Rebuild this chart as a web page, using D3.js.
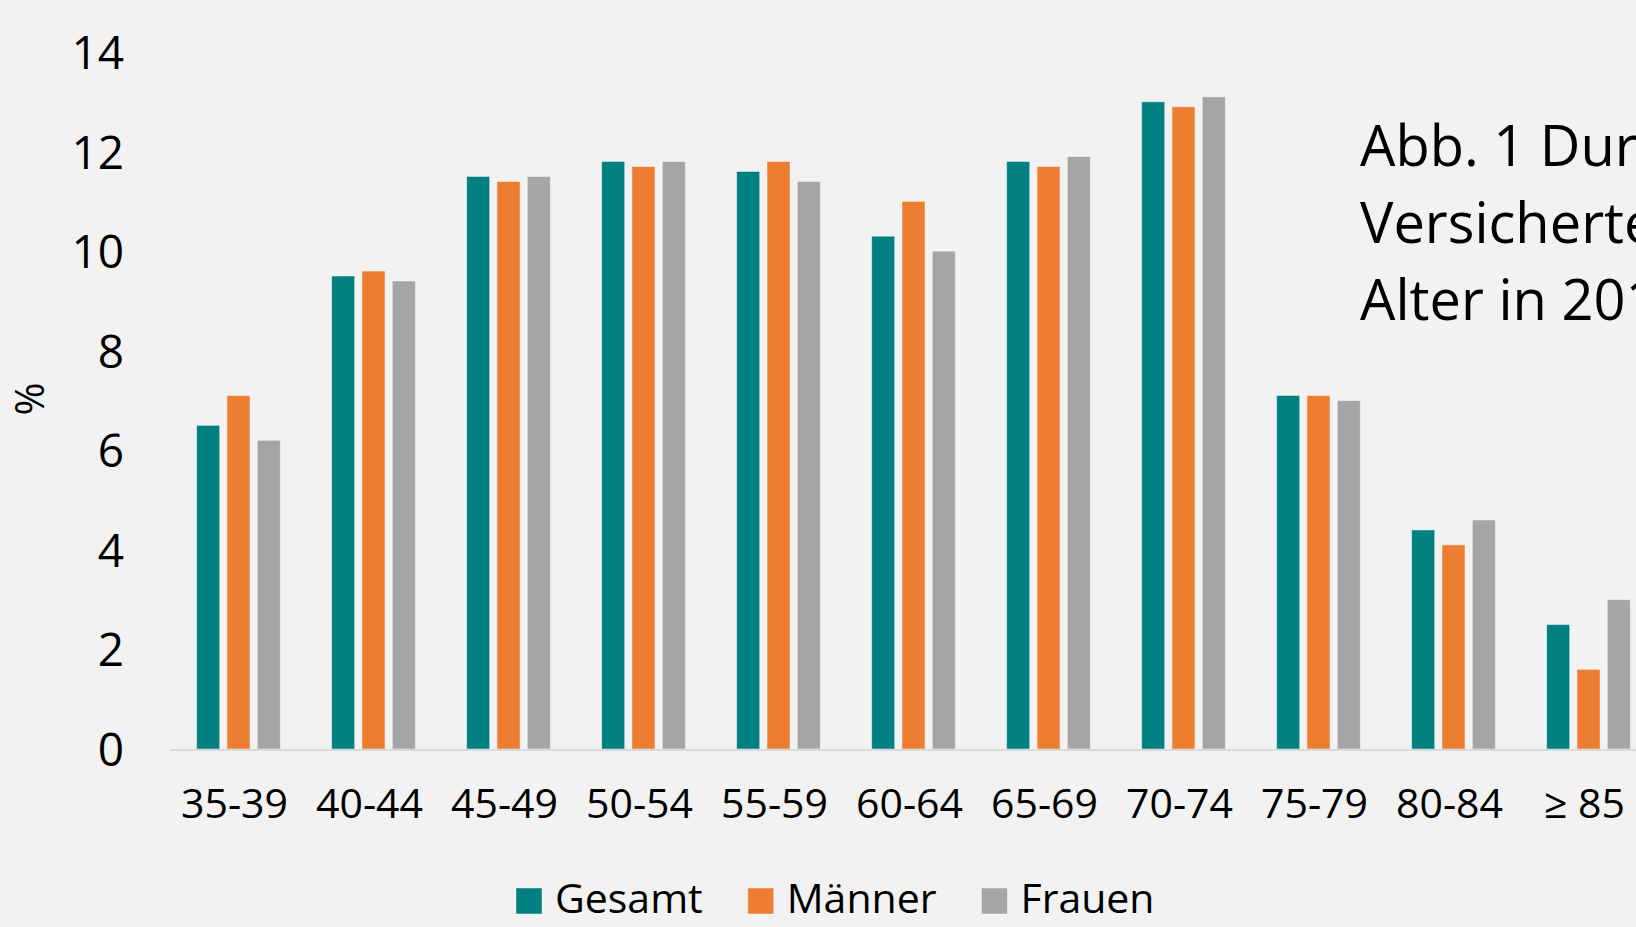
<!DOCTYPE html>
<html>
<head>
<meta charset="utf-8">
<script src="https://cdn.jsdelivr.net/npm/d3@7"></script>
<style>
  html, body { margin: 0; padding: 0; background: #f2f2f2; overflow: hidden; }
  svg { display: block; font-family: "Open Sans", sans-serif; }
</style>
</head>
<body>
<script>
// age groups and the three series (percent)
const ageGroups = ["35-39", "40-44", "45-49", "50-54", "55-59", "60-64", "65-69", "70-74", "75-79", "80-84", "\u2265 85"];
const gesamt = [6.5, 9.5, 11.5, 11.8, 11.6, 10.3, 11.8, 13.0, 7.1, 4.4, 2.5];
const maenner = [7.1, 9.6, 11.4, 11.7, 11.8, 11.0, 11.7, 12.9, 7.1, 4.1, 1.6];
const frauen = [6.2, 9.4, 11.5, 11.8, 11.4, 10.0, 11.9, 13.1, 7.0, 4.6, 3.0];
const seriesNames = ["Gesamt", "M\u00e4nner", "Frauen"];
const yTicks = [0, 2, 4, 6, 8, 10, 12, 14];
const titleLines = ["Abb. 1 Dur", "Versicherte", "Alter in 201"];

const width = 1636, height = 927;
const colors = ["#008080", "#ed7d31", "#a5a5a5"];
const values = [gesamt, maenner, frauen];

const table = ageGroups.map((g, i) => ({
  group: g,
  vals: seriesNames.map((s, j) => ({ key: s, value: values[j][i] }))
}));

const svg = d3.select("body").append("svg")
  .attr("width", width)
  .attr("height", height);

svg.append("rect")
  .attr("width", width).attr("height", height)
  .attr("fill", "#f2f2f2");

// plot runs off the right edge, like the cropped original
const step = 135;
const x0 = d3.scaleBand()
  .domain(ageGroups)
  .range([171, 171 + step * 11])
  .paddingInner(0.38)
  .paddingOuter(0.19);

const x1 = d3.scaleBand()
  .domain(seriesNames)
  .range([0, x0.bandwidth()])
  .paddingInner(0.24);

const y = d3.scaleLinear()
  .domain([0, 14])
  .range([749, 52]);

const color = d3.scaleOrdinal().domain(seriesNames).range(colors);

// y axis labels
const yAxis = svg.append("g")
  .attr("transform", "translate(124,0)")
  .call(d3.axisLeft(y).tickValues(yTicks).tickSize(0).tickPadding(0));
yAxis.select(".domain").remove();
yAxis.selectAll("text")
  .attr("font-family", "Open Sans")
  .attr("font-size", 46)
  .attr("fill", "#000")
  .attr("dy", "0.36em");

svg.append("text")
  .attr("transform", "translate(44,399) rotate(-90)")
  .attr("text-anchor", "middle")
  .attr("font-size", 40)
  .attr("fill", "#000")
  .text("%");

// bars
const groups = svg.append("g").selectAll("g")
  .data(table)
  .enter()
  .append("g")
  .attr("transform", d => "translate(" + x0(d.group) + ",0)");

groups.selectAll("rect")
  .data(d => d.vals)
  .enter()
  .append("rect")
  .attr("x", d => x1(d.key))
  .attr("y", d => y(d.value))
  .attr("width", x1.bandwidth())
  .attr("height", d => y(0) - y(d.value))
  .attr("fill", d => color(d.key))
  .attr("stroke", "#ffffff")
  .attr("stroke-opacity", 0.45)
  .attr("stroke-width", 1);

// x axis
const xAxis = svg.append("g")
  .attr("transform", "translate(0," + y(0) + ")")
  .call(d3.axisBottom(x0).tickSize(0).tickPadding(40));
xAxis.select(".domain")
  .attr("stroke", "#d9d9d9")
  .attr("stroke-width", 2)
  .attr("d", "M" + 170 + ",1H" + width);
xAxis.selectAll("text")
  .attr("font-family", "Open Sans")
  .attr("font-size", 41)
  .attr("fill", "#000")
  .attr("dx", "-4");

// legend
const legend = svg.append("g");
let lx = 516;
seriesNames.forEach((s, i) => {
  legend.append("rect")
    .attr("x", lx).attr("y", 888)
    .attr("width", 26).attr("height", 26)
    .attr("fill", color(s))
    .attr("stroke", "#ffffff").attr("stroke-opacity", 0.45);
  const t = legend.append("text")
    .attr("x", lx + 39).attr("y", 913)
    .attr("font-size", 41)
    .attr("fill", "#000")
    .text(s);
  lx = lx + 39 + t.node().getComputedTextLength() + 45;
});

// title (cut off at the right edge)
svg.append("g").selectAll("text")
  .data(titleLines)
  .enter()
  .append("text")
  .attr("x", 1360)
  .attr("y", (d, i) => 166 + i * 77)
  .attr("font-size", 56)
  .attr("fill", "#000")
  .text(d => d);
</script>
</body>
</html>
